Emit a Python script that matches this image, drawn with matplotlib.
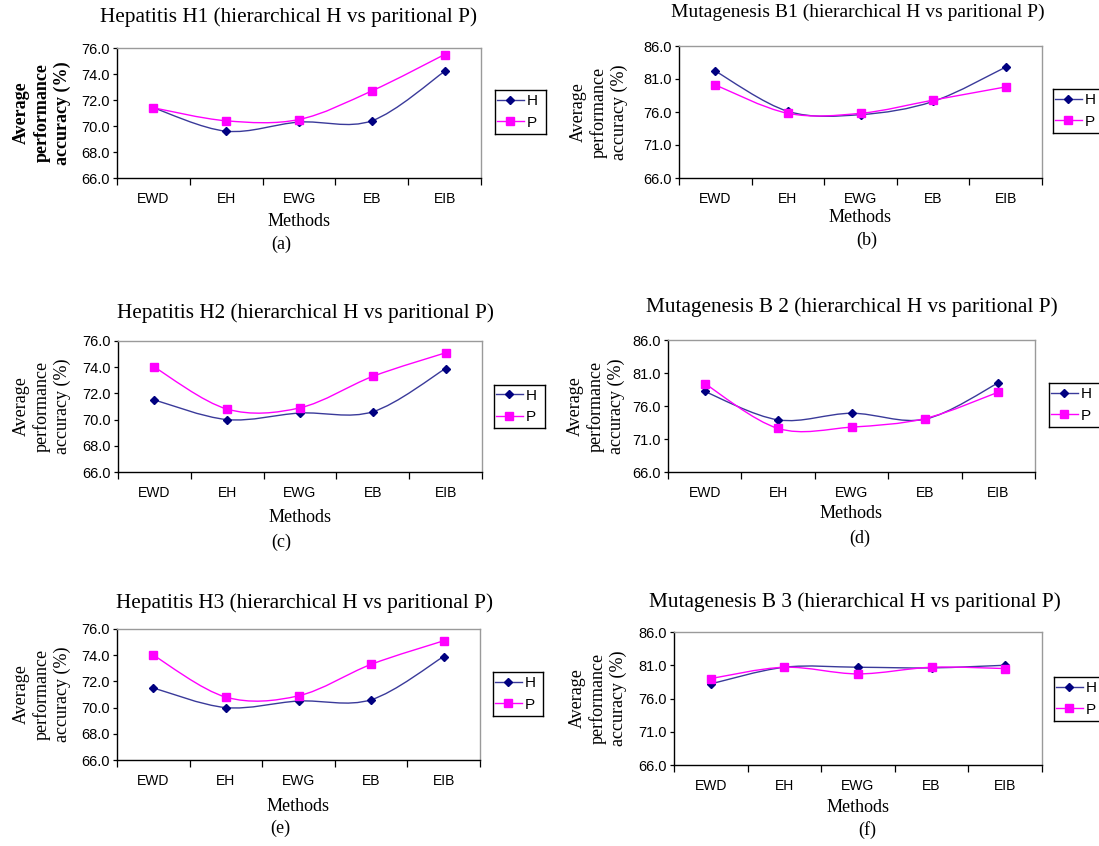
import numpy as np
import matplotlib
matplotlib.use('Agg')
import matplotlib.pyplot as plt
from matplotlib.path import Path
from matplotlib.patches import PathPatch
from matplotlib.lines import Line2D

# methods on the x axis
methods = ['EWD', 'EH', 'EWG', 'EB', 'EIB']

# average performance accuracy (%)
h1_H = [71.4, 69.6, 70.3, 70.4, 74.2]
h1_P = [71.4, 70.4, 70.5, 72.7, 75.5]
b1_H = [82.2, 76.1, 75.6, 77.6, 82.8]
b1_P = [80.1, 75.8, 75.8, 77.8, 79.8]
h2_H = [71.5, 70.0, 70.5, 70.6, 73.9]
h2_P = [74.0, 70.8, 70.9, 73.3, 75.1]
b2_H = [78.2, 73.9, 74.9, 74.0, 79.5]
b2_P = [79.4, 72.6, 72.8, 74.1, 78.1]
h3_H = [71.5, 70.0, 70.5, 70.6, 73.9]
h3_P = [74.0, 70.8, 70.9, 73.3, 75.1]
b3_H = [78.2, 80.7, 80.7, 80.6, 81.0]
b3_P = [79.0, 80.7, 79.7, 80.7, 80.5]

hep_ticks = [66.0, 68.0, 70.0, 72.0, 74.0, 76.0]
mut_ticks = [66.0, 71.0, 76.0, 81.0, 86.0]

W, H = 1099, 846
fig = plt.figure(figsize=(W / 100, H / 100), dpi=100)
fig.patch.set_facecolor('white')

SERIF = 'Liberation Serif'
SANS = 'Liberation Sans'
H_COL = '#000080'
H_LINE = '#3a3a9a'
P_COL = '#ff00ff'


def smooth_path(xs, ys):
    # excel style smoothed line: catmull-rom segments as cubic beziers
    pts = np.column_stack([xs, ys]).astype(float)
    n = len(pts)
    verts = [pts[0]]
    codes = [Path.MOVETO]
    for i in range(n - 1):
        p0 = pts[i - 1] if i > 0 else pts[i]
        p1 = pts[i]
        p2 = pts[i + 1]
        p3 = pts[i + 2] if i + 2 < n else pts[i + 1]
        c1 = p1 + (p2 - p0) / 6.0
        c2 = p2 - (p3 - p1) / 6.0
        verts += [c1, c2, p2]
        codes += [Path.CURVE4] * 3
    return Path(verts, codes)


# title, H, P, ticks, axes box px, letter, bold ylabel, title (x, y, size),
# methods y, letter (x, y), ylabel x, legend box px
panels = [
    ('Hepatitis H1 (hierarchical H vs paritional P)', h1_H, h1_P, hep_ticks,
     (117, 48, 481, 178), '(a)', True, (288, 17, 15.3), 221, (281, 244), 42, (495, 90, 546, 134)),
    ('Mutagenesis B1 (hierarchical H vs paritional P)', b1_H, b1_P, mut_ticks,
     (679, 46, 1042, 178), '(b)', False, (858, 12, 14), 217, (867, 240), 599, (1053, 89, 1110, 133)),
    ('Hepatitis H2 (hierarchical H vs paritional P)', h2_H, h2_P, hep_ticks,
     (118, 341, 482, 472), '(c)', False, (305, 313, 15.3), 517, (281, 542), 42, (494, 385, 545, 428)),
    ('Mutagenesis B 2 (hierarchical H vs paritional P)', b2_H, b2_P, mut_ticks,
     (668, 340, 1035, 472), '(d)', False, (852, 307, 15.3), 514, (860, 538), 596, (1049, 383, 1106, 427)),
    ('Hepatitis H3 (hierarchical H vs paritional P)', h3_H, h3_P, hep_ticks,
     (117, 629, 480, 760), '(e)', False, (305, 603, 15.3), 806, (280, 828), 42, (493, 672, 543, 716)),
    ('Mutagenesis B 3 (hierarchical H vs paritional P)', b3_H, b3_P, mut_ticks,
     (674, 632, 1042, 765), '(f)', False, (855, 602, 15.3), 807, (867, 830), 598, (1054, 677, 1110, 721)),
]

for (title, hv, pv, ticks, box, letter, bold, tpos, mly, lpos, ylx, lbox) in panels:
    l, t, r, b = box
    ax = fig.add_axes([l / W, 1 - b / H, (r - l) / W, (b - t) / H])
    x = np.arange(len(methods))
    ax.add_patch(PathPatch(smooth_path(x, hv), fill=False, edgecolor=H_LINE, lw=1.0, zorder=3))
    ax.add_patch(PathPatch(smooth_path(x, pv), fill=False, edgecolor=P_COL, lw=1.0, zorder=3))
    ax.plot(x, hv, linestyle='None', marker='D', ms=4.5, color=H_COL, zorder=4)
    ax.plot(x, pv, linestyle='None', marker='s', ms=5.5, color=P_COL, zorder=4)
    ax.set_xlim(-0.5, len(methods) - 0.5)
    ax.set_ylim(ticks[0], ticks[-1])
    ax.set_yticks(ticks)
    ax.set_yticklabels(['%.1f' % v for v in ticks], fontname=SANS, fontsize=10.5)
    ax.set_xticks(np.arange(len(methods) + 1) - 0.5)
    ax.set_xticklabels([])
    ax.set_xticks(x, minor=True)
    ax.set_xticklabels(methods, minor=True, fontname=SANS, fontsize=10)
    ax.tick_params(axis='x', which='major', direction='out', length=5, width=0.9, color='black')
    ax.tick_params(axis='x', which='minor', length=0, pad=10)
    ax.tick_params(axis='y', direction='out', length=3, width=0.9, pad=2)
    for s in ['top', 'right']:
        ax.spines[s].set_color('#9a9a9a')
        ax.spines[s].set_linewidth(1.0)
    for s in ['left', 'bottom']:
        ax.spines[s].set_color('black')
        ax.spines[s].set_linewidth(1.0)

    cx = (l + r) / 2
    tx, ty, tsz = tpos
    fig.text(tx / W, 1 - ty / H, title, fontname=SERIF, fontsize=tsz, ha='center', va='center')
    fig.text(cx / W, 1 - mly / H, 'Methods', fontname=SERIF, fontsize=13, ha='center', va='center')
    fig.text(lpos[0] / W, 1 - lpos[1] / H, letter, fontname=SERIF, fontsize=13, ha='center', va='center')
    fig.text(ylx / W, 1 - (t + b) / 2 / H, 'Average\nperformance\naccuracy (%)', fontname=SERIF,
             fontsize=13, rotation=90, ha='center', va='center', linespacing=1.25,
             fontweight='bold' if bold else 'normal')

    # legend box
    ll, lt, lr, lb = lbox
    lax = fig.add_axes([ll / W, 1 - lb / H, (lr - ll) / W, (lb - lt) / H])
    lax.set_xticks([])
    lax.set_yticks([])
    for s in lax.spines.values():
        s.set_color('black')
        s.set_linewidth(1.0)
    lax.set_xlim(0, 1)
    lax.set_ylim(0, 1)
    handles = [Line2D([0, 0], [0, 0], color=H_LINE, marker='D', ms=4.5, mfc=H_COL, mec=H_COL, lw=1.0),
               Line2D([0, 0], [0, 0], color=P_COL, marker='s', ms=5.5, lw=1.0)]
    lax.legend(handles, ['H', 'P'], loc='center left', frameon=False, handlelength=1.8,
               handletextpad=0.15, borderaxespad=0.0, borderpad=0.1, labelspacing=0.5,
               prop={'family': SANS, 'size': 11})

fig.savefig('out.png', dpi=100, facecolor='white')
